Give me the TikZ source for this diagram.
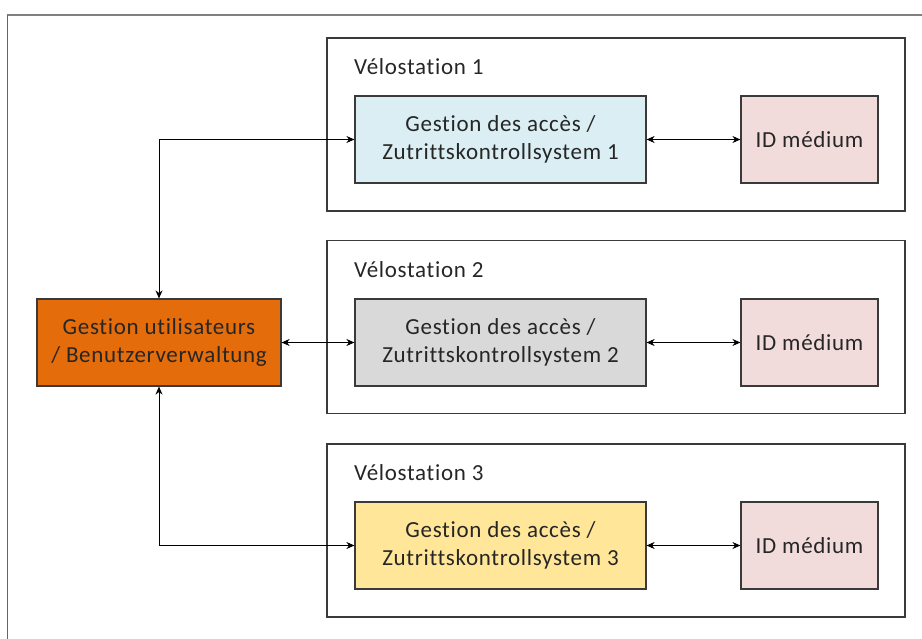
\documentclass[tikz,border=0pt]{standalone}
\usepackage{fontspec}
\setmainfont{Carlito}[LetterSpace=3, Ligatures=NoCommon]
\usepackage{xcolor}
\usetikzlibrary{positioning}
\usetikzlibrary{arrows.meta}

\definecolor{accblue}{HTML}{DAEEF3}
\definecolor{accgray}{HTML}{D9D9D9}
\definecolor{accyellow}{HTML}{FFE699}
\definecolor{idpink}{HTML}{F2DCDB}
\definecolor{userorange}{HTML}{E46C0A}
\definecolor{edge}{HTML}{3A3A3A}

\begin{document}
\begin{tikzpicture}[x=1pt, y=-1pt,
  txt/.style={font=\fontsize{23}{28}\selectfont, text=black!85},
  station/.style={draw=edge, line width=1.2pt, minimum width=578pt, minimum height=173pt, inner sep=0pt},
  acc/.style={txt, draw=edge, line width=1.2pt, minimum width=291pt, minimum height=87pt, align=center, inner sep=0pt},
  idm/.style={txt, draw=edge, fill=idpink, line width=1.2pt, minimum width=137pt, minimum height=87pt, inner sep=0pt},
  link/.style={{Stealth[length=8pt,width=7pt]}-{Stealth[length=8pt,width=7pt]}, line width=0.9pt}]
\useasboundingbox (0,0) rectangle (922,639);

% frame
\draw [black!50, line width=2pt] (922,15) -- (7,15);
\draw [black!60, line width=1pt] (7,15) -- (7,639);

% station 1
\node (st1) [station] at (616,124.5) {};
\node (st1_lbl) [txt, anchor=west, inner sep=0pt] at (354,67) {Vélostation 1};
\node (acc1) [acc, fill=accblue] at (500.5,139.5) {Gestion des accès /\\Zutrittskontrollsystem 1};
\node (id1) [idm] at (809.5,139.5) {ID médium};
\draw [link] (acc1) -- (id1);

% station 2
\node (st2) [station] at (616,327) {};
\node (st2_lbl) [txt, anchor=west, inner sep=0pt] at (354,270) {Vélostation 2};
\node (acc2) [acc, fill=accgray] at (500.5,342.5) {Gestion des accès /\\Zutrittskontrollsystem 2};
\node (id2) [idm] at (809.5,342.5) {ID médium};
\draw [link] (acc2) -- (id2);

% station 3
\node (st3) [station] at (616,530.5) {};
\node (st3_lbl) [txt, anchor=west, inner sep=0pt] at (354,473) {Vélostation 3};
\node (acc3) [acc, fill=accyellow] at (500.5,545.5) {Gestion des accès /\\Zutrittskontrollsystem 3};
\node (id3) [idm] at (809.5,545.5) {ID médium};
\draw [link] (acc3) -- (id3);

% user management
\node (user) [acc, fill=userorange, minimum width=244pt] at (159,342.5) {Gestion utilisateurs\\/ Benutzerverwaltung};
\draw [link] (user.north) |- (acc1.west);
\draw [link] (user) -- (acc2);
\draw [link] (user.south) |- (acc3.west);
\end{tikzpicture}
\end{document}
